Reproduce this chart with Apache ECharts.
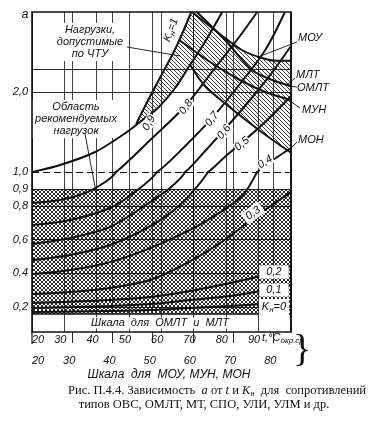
<!DOCTYPE html>
<html><head><meta charset="utf-8">
<script src="https://cdn.jsdelivr.net/npm/echarts@6/dist/echarts.min.js"></script>
<style>html,body{margin:0;padding:0;background:#fff}#c{width:370px;height:433px}</style>
</head><body><div id="c"></div>
<script>
// ---------- DATA (t in °C on the МОУ/МУН/МОН scale, a = coefficient) ----------
const lowerScaleTicks = [20, 30, 40, 50, 60, 70, 80];          // Шкала для МОУ, МУН, МОН
const upperScaleTicks = [20, 30, 40, 50, 60, 70, 80, 90];      // Шкала для ОМЛТ и МЛТ
const yTicksLower = [0.2, 0.4, 0.6, 0.8, 0.9, 1.0];
const yTicksUpper = [2.0];
const gridLinesLower = [0.2, 0.4, 0.6, 0.8, 0.9];
const gridLinesUpper = [2.0, 2.28];

const curveK0  = [[20.2,0.172],[39.4,0.178],[49.4,0.183],[59.3,0.195],[69.3,0.207],[76.7,0.219],[84.4,0.237]];
const curveK01 = [[20.2,0.195],[39.4,0.207],[49.4,0.219],[59.3,0.243],[69.3,0.266],[76.7,0.296],[84.4,0.331]];
const curveK02 = [[20.2,0.225],[39.4,0.243],[49.4,0.26],[59.3,0.296],[69.3,0.343],[76.7,0.385],[84.4,0.444]];
const curveK03 = [[20.2,0.278],[29.5,0.29],[39.4,0.314],[49.4,0.361],[58.1,0.456],[66.8,0.58],[75.5,0.734],[84.4,0.882]];
const curveK04 = [[20.2,0.396],[29.5,0.42],[39.4,0.467],[49.4,0.55],[59.3,0.657],[66.8,0.763],[72.5,0.864],[76.0,1.0],[79.2,1.125],[84.4,1.3]];
const curveK05 = [[20.2,0.479],[29.5,0.509],[39.4,0.568],[49.4,0.68],[56.8,0.805],[63.8,1.0],[68.0,1.19],[72.0,1.36],[78.0,1.625],[84.4,1.95]];
const curveK06 = [[20.2,0.574],[29.5,0.609],[39.4,0.675],[49.4,0.822],[54.3,0.905],[58.1,1.0],[63.0,1.26],[67.5,1.51],[74.2,1.9],[79.2,2.21],[84.4,2.575]];
const curveK07 = [[20.2,0.686],[29.5,0.716],[39.4,0.787],[45.6,0.882],[51.1,1.0],[58.1,1.325],[64.5,1.66],[71.7,2.1],[78.0,2.525],[82.9,3.0]];
const curveK08 = [[20.2,0.817],[27.0,0.834],[33.2,0.876],[38.2,0.941],[40.9,1.0],[49.4,1.4],[58.1,1.825],[65.5,2.3],[71.7,2.7],[76.0,3.0]];
const curveK09 = [[20.2,1.0],[27.2,1.09],[35.7,1.25],[43.9,1.51],[48.1,1.675],[51.3,1.8],[55.6,2.05],[59.3,2.34],[63.0,2.625],[67.3,3.0]];
const curveK1  = [[45.9,1.6],[49.4,1.95],[52.6,2.25],[56.1,2.59],[59.6,3.0]];

const limitMOU = [[59.8,3.0],[66.3,2.74],[72.2,2.525],[77.2,2.425],[80.9,2.39],[84.4,2.39]];
const limitMLT = [[61.0,3.0],[68.0,2.65],[74.7,2.275],[79.7,2.15],[84.4,2.075]];
const limitMUN = [[56.6,2.65],[64.3,2.375],[71.7,2.15],[78.0,2.0],[84.4,1.9]];
const limitMON = [[59.3,2.34],[63.0,2.075],[68.8,1.825],[74.7,1.59],[78.7,1.44],[84.4,1.24]];
const zoneTU = [[45.9,1.6],[49.4,1.95],[52.6,2.25],[56.1,2.59],[59.6,3.0],[59.8,3.0],[66.3,2.74],[72.2,2.525],[77.2,2.425],[80.9,2.39],[84.4,2.39],
  [84.4,1.24],[78.7,1.44],[74.7,1.59],[68.8,1.825],[63.0,2.075],[59.3,2.34],[55.6,2.05],[51.3,1.8],[48.1,1.675],[45.9,1.6]];
const zoneRecommended = [0.16, 0.9];

// ---------- LAYOUT ----------
const L = 32, R = 291, TOP = 12, MID = 172, BOT = 314, STRIP = 332;
const W = R - L;
const INK = '#111';
const FONT = 'italic 11px "Liberation Sans", "DejaVu Sans", sans-serif';

function pattern(cross, s, lw) {
  const c = document.createElement('canvas'); c.width = c.height = s;
  const g = c.getContext('2d'); g.strokeStyle = INK; g.lineWidth = lw; g.beginPath();
  for (const k of [-1,0,1]) { g.moveTo(k*s - 1, -1); g.lineTo(k*s + s + 1, s + 1); }
  if (cross) for (const k of [0,1,2]) { g.moveTo(k*s + 1, -1); g.lineTo(k*s - s - 1, s + 1); }
  g.stroke();
  return { image: c, repeat: 'repeat' };
}
const crossHatch = pattern(true, 4, 0.9);
const diagHatch = pattern(false, 4, 0.8);

const chart = echarts.init(document.getElementById('c'), null, { renderer: 'canvas' });

const xBase = (gridIndex, min, max) => ({
  type: 'value', gridIndex, min, max, interval: 10,
  axisLine: { show: false }, axisTick: { show: false }, axisLabel: { show: false },
  splitLine: { show: true, lineStyle: { color: INK, width: 0.8 } }
});
const lblStyle = { color: INK, fontStyle: 'italic', fontSize: 11, fontFamily: 'Liberation Sans' };

const xAxes = [
  xBase(0, 20, 84.4), xBase(0, 20, 100.2),
  xBase(1, 20, 84.4), xBase(1, 20, 100.2),
  Object.assign(xBase(2, 20, 100.2), {
    position: 'bottom',
    axisLabel: Object.assign({ show: true, margin: 2, customValues: upperScaleTicks, alignMinLabel: 'left', padding: [0, 8, 0, 0] }, lblStyle)
  }),
  Object.assign(xBase(2, 20, 84.4), {
    position: 'bottom', splitLine: { show: false },
    axisTick: { show: true, inside: false, length: 11, customValues: lowerScaleTicks.slice(1), lineStyle: { color: INK, width: 0.9 } },
    axisLabel: Object.assign({ show: true, margin: 23, customValues: lowerScaleTicks, alignMinLabel: 'left', padding: [0, 6, 0, 0] }, lblStyle)
  })
];

const fmt = v => v.toFixed(1).replace('.', ',');
const yAxes = [
  { type: 'value', gridIndex: 0, min: 1, max: 3, axisLine: { show: false }, axisTick: { show: false }, splitLine: { show: false },
    axisLabel: Object.assign({ show: true, customValues: yTicksUpper, margin: 4, formatter: fmt }, lblStyle) },
  { type: 'value', gridIndex: 1, min: 0.16, max: 1.0, axisLine: { show: false }, axisTick: { show: false }, splitLine: { show: false },
    axisLabel: Object.assign({ show: true, customValues: yTicksLower, margin: 4, formatter: fmt }, lblStyle) },
  { type: 'value', gridIndex: 2, min: 0, max: 1, show: false }
];

const series = [];
series.push({ type: 'line', xAxisIndex: 2, yAxisIndex: 1, data: [], silent: true,
  markArea: { silent: true, itemStyle: { color: crossHatch }, data: [[{ yAxis: zoneRecommended[0] }, { yAxis: zoneRecommended[1] }]] },
  markLine: { silent: true, symbol: 'none', label: { show: false }, lineStyle: { color: INK, width: 0.9, type: 'solid' },
    data: gridLinesLower.map(v => ({ yAxis: v })).concat([{ yAxis: 1.0, lineStyle: { type: [7, 4], width: 1.1 } }]) } });
series.push({ type: 'line', xAxisIndex: 0, yAxisIndex: 0, data: [], silent: true,
  markLine: { silent: true, symbol: 'none', label: { show: false }, lineStyle: { color: INK, width: 0.9, type: 'solid' },
    data: gridLinesUpper.map(v => ({ yAxis: v })) } });
series.push({ type: 'custom', xAxisIndex: 0, yAxisIndex: 0, data: [0], silent: true, clip: true, z: 3,
  renderItem: (p, api) => ({ type: 'polygon', shape: { points: zoneTU.map(pt => api.coord(pt)) }, style: { fill: diagHatch, stroke: null } }) });

const curves = [curveK1, curveK09, curveK08, curveK07, curveK06, curveK05, curveK04, curveK03, curveK02, curveK01, curveK0,
  limitMOU, limitMLT, limitMUN, limitMON];
curves.forEach(d => {
  [[0, 0], [2, 1]].forEach(([xi, yi]) => series.push({ type: 'line', xAxisIndex: xi, yAxisIndex: yi, data: d, showSymbol: false,
    smooth: 0.3, clip: true, silent: true, z: 5, lineStyle: { color: INK, width: 2 } }));
});

// ---------- annotations ----------
const T = (text, x, y, opt = {}) => Object.assign({ type: 'text', x, y, z: 50, style: Object.assign({ text, font: FONT, fill: INK, align: 'center', verticalAlign: 'middle' }, opt.style || {}) }, opt.el || {});
const deg = d => d * Math.PI / 180;
const boxed = { backgroundColor: '#fff', padding: [1, 3] };
const gap = { backgroundColor: '#fff', padding: [0, 1] };
const rich = { s: { font: 'italic 8px "Liberation Sans", sans-serif', verticalAlign: 'bottom', padding: [6, 0, 0, 0] }, b: { font: FONT } };
const Ln = (pts, w = 0.9) => ({ type: 'polyline', z: 40, shape: { points: pts }, style: { stroke: INK, lineWidth: w, fill: null } });

const graphics = [
  { type: 'rect', z: 60, shape: { x: L, y: TOP, width: W, height: STRIP - TOP }, style: { fill: null, stroke: INK, lineWidth: 1.6 } },
  Ln([[L, BOT], [R, BOT]], 1.4),
  Ln([[L, STRIP], [L, STRIP + 12]], 1.2),
  T('a', 25, 15, { style: { font: 'italic 12px "Liberation Sans", sans-serif' } }),
  T('Нагрузки,\nдопустимые\nпо ЧТУ', 90, 42, { el: { z: 4 }, style: Object.assign({ lineHeight: 12 }, boxed) }),
  Ln([[127, 47], [180, 56]]),
  T('Область\nрекомендуемых\nнагрузок', 76, 119, { el: { z: 4 }, style: Object.assign({ lineHeight: 12 }, boxed) }),
  Ln([[85, 134], [96, 192]]),
  T('{b|K}{s|н}{b|=1}', 171, 30, { el: { rotation: deg(70) }, style: { rich } }),
  T('0,9', 149, 123, { el: { rotation: deg(60) }, style: gap }),
  T('0,8', 186, 107, { el: { rotation: deg(55) }, style: gap }),
  T('0,7', 212, 119, { el: { rotation: deg(52) }, style: gap }),
  T('0,6', 224, 132, { el: { rotation: deg(50) }, style: gap }),
  T('0,5', 242, 144, { el: { rotation: deg(40) }, style: gap }),
  T('0,4', 265, 162, { el: { rotation: deg(32) }, style: gap }),
  T('0,3', 253, 213, { el: { rotation: deg(35) }, style: boxed }),
  T('0,2', 274, 272, { style: Object.assign({}, boxed, { padding: [1, 7] }) }),
  T('0,1', 274, 290, { style: Object.assign({}, boxed, { padding: [1, 7] }) }),
  T('{b|K}{s|н}{b|=0}', 274, 307, { style: Object.assign({ rich }, boxed) }),
  T('МОУ', 298, 38, { style: { align: 'left' } }), Ln([[297, 42], [258, 57]]),
  T('МЛТ', 296, 75, { style: { align: 'left' } }), Ln([[295, 78], [287, 85]]),
  T('ОМЛТ', 297, 88, { style: { align: 'left' } }), Ln([[297, 87], [288, 86]]),
  T('МУН', 302, 110, { style: { align: 'left' } }), Ln([[300, 108], [287, 99]]),
  T('МОН', 298, 140, { style: { align: 'left' } }), Ln([[297, 142], [289, 150]]),
  T('Шкала  для  ОМЛТ  и  МЛТ', 160, 323, { style: Object.assign({}, boxed, { padding: [0, 4] }) }),
  T('{b|t,°C}{s|окр.ср}', 262, 338, { style: { align: 'left', rich } }),
  T('}', 302, 351, { style: { font: '38px "Liberation Serif", serif', verticalAlign: 'middle' } }),
  T('Шкала  для  МОУ, МУН, МОН', 169, 375, { style: { font: 'italic 12px "Liberation Sans", sans-serif' } }),
  T('Рис. П.4.4. Зависимость  {i|a} от {i|t} и {i|K}{s|н}  для  сопротивлений', 217, 391,
    { style: { font: '12.5px "Liberation Serif", serif', rich: { i: { font: 'italic 12.5px "Liberation Serif", serif' }, s: { font: '8px "Liberation Serif", serif', padding: [5, 0, 0, 0] } } } }),
  T('типов ОВС, ОМЛТ, МТ, СПО, УЛИ, УЛМ и др.', 204, 405, { style: { font: '12.5px "Liberation Serif", serif' } })
];

chart.setOption({
  animation: false,
  backgroundColor: '#fff',
  grid: [
    { left: L, top: TOP, width: W, height: MID - TOP },
    { left: L, top: MID, width: W, height: BOT - MID },
    { left: L, top: BOT, width: W, height: STRIP - BOT }
  ],
  xAxis: xAxes, yAxis: yAxes, series, graphic: graphics
});
</script>
</body></html>
